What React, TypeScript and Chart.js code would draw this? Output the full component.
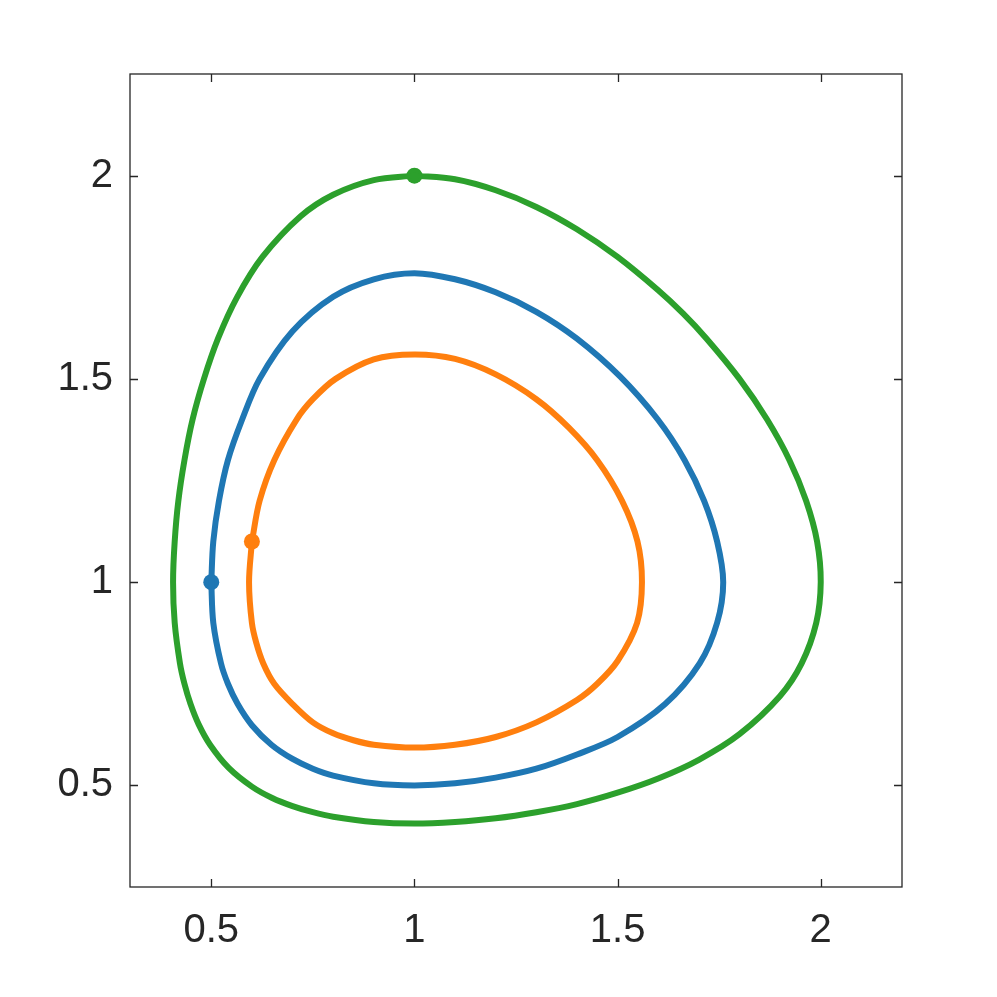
import React, { useEffect, useRef } from "react";
import { Chart, registerables } from "chart.js";

Chart.register(...registerables);

// Closed orbits (x, y), each starting at its marker
const greenX = [1, 1.1, 1.2, 1.3, 1.4, 1.5, 1.6, 1.661, 1.718, 1.8, 1.868, 1.923, 1.964, 1.991, 2.0, 1.989, 1.953, 1.9, 1.8, 1.7, 1.6, 1.5, 1.4, 1.3, 1.2, 1.1, 1, 0.9, 0.8, 0.75, 0.7, 0.65, 0.6, 0.543, 0.497, 0.469, 0.449, 0.434, 0.423, 0.41, 0.406, 0.41, 0.419, 0.434, 0.454, 0.482, 0.517, 0.563, 0.626, 0.72, 0.8, 0.9, 1];
const greenY = [2, 1.991, 1.964, 1.923, 1.868, 1.8, 1.718, 1.661, 1.6, 1.5, 1.4, 1.3, 1.2, 1.1, 1.0, 0.9, 0.8, 0.72, 0.626, 0.563, 0.517, 0.482, 0.454, 0.434, 0.419, 0.41, 0.406, 0.41, 0.423, 0.434, 0.449, 0.469, 0.497, 0.543, 0.6, 0.65, 0.7, 0.75, 0.8, 0.9, 1.0, 1.1, 1.2, 1.3, 1.4, 1.5, 1.6, 1.7, 1.8, 1.9, 1.953, 1.989, 2];

const blueX = [0.5, 0.505, 0.519, 0.541, 0.576, 0.619, 0.7, 0.8, 0.9, 1, 1.1, 1.2, 1.3, 1.4, 1.506, 1.599, 1.665, 1.713, 1.745, 1.76, 1.745, 1.702, 1.617, 1.5, 1.4, 1.3, 1.2, 1.1, 1, 0.9, 0.8, 0.75, 0.7, 0.648, 0.6, 0.565, 0.541, 0.524, 0.505, 0.5];
const blueY = [1, 1.1, 1.2, 1.3, 1.4, 1.5, 1.617, 1.702, 1.745, 1.76, 1.745, 1.713, 1.665, 1.599, 1.506, 1.4, 1.3, 1.2, 1.1, 1.0, 0.9, 0.8, 0.7, 0.619, 0.576, 0.541, 0.519, 0.505, 0.5, 0.505, 0.524, 0.541, 0.565, 0.6, 0.648, 0.7, 0.75, 0.8, 0.9, 1];

const orangeX = [0.6, 0.619, 0.655, 0.71, 0.75, 0.806, 0.9, 1, 1.1, 1.2, 1.3, 1.38, 1.45, 1.511, 1.549, 1.56, 1.548, 1.5, 1.45, 1.4, 1.3, 1.2, 1.1, 1, 0.9, 0.85, 0.8, 0.75, 0.7, 0.655, 0.628, 0.611, 0.6, 0.593, 0.6];
const orangeY = [1.1, 1.2, 1.3, 1.4, 1.45, 1.5, 1.548, 1.56, 1.549, 1.511, 1.45, 1.38, 1.3, 1.2, 1.1, 1.0, 0.9, 0.806, 0.75, 0.71, 0.655, 0.619, 0.6, 0.593, 0.6, 0.611, 0.628, 0.655, 0.7, 0.75, 0.8, 0.85, 0.9, 1.0, 1.1];

const startX = [0.5, 0.6, 1];
const startY = [1, 1.1, 2];

const xTicks = [0.5, 1, 1.5, 2];
const yTicks = [0.5, 1, 1.5, 2];

const BLUE = "#1f77b4";
const ORANGE = "#ff7f0e";
const GREEN = "#2ca02c";
const AXIS = "#262626";

const zip = (xs: number[], ys: number[]) => xs.map((x, i) => ({ x, y: ys[i] }));

const boxPlugin = {
  id: "boxTicks",
  afterDraw(chart: any) {
    const { ctx, chartArea: a, scales } = chart;
    ctx.save();
    ctx.strokeStyle = AXIS;
    ctx.lineWidth = 1.3;
    ctx.beginPath();
    const L = 8;
    xTicks.forEach((v) => {
      const p = Math.round(scales.x.getPixelForValue(v)) + 0.5;
      ctx.moveTo(p, a.bottom);
      ctx.lineTo(p, a.bottom - L);
      ctx.moveTo(p, a.top);
      ctx.lineTo(p, a.top + L);
    });
    yTicks.forEach((v) => {
      const p = Math.round(scales.y.getPixelForValue(v)) + 0.5;
      ctx.moveTo(a.left, p);
      ctx.lineTo(a.left + L, p);
      ctx.moveTo(a.right, p);
      ctx.lineTo(a.right - L, p);
    });
    ctx.stroke();
    ctx.strokeRect(a.left, a.top, a.right - a.left, a.bottom - a.top);
    ctx.restore();
  },
};

export default function App() {
  const ref = useRef<HTMLCanvasElement | null>(null);
  useEffect(() => {
    if (!ref.current) return;
    const lineDs = (data: any[], color: string) => ({
      type: "line" as const,
      data,
      borderColor: color,
      backgroundColor: color,
      borderWidth: 6,
      pointRadius: 0,
      tension: 0.33,
      showLine: true,
      fill: false,
      borderJoinStyle: "round" as const,
      borderCapStyle: "round" as const,
    });
    const chart = new Chart(ref.current, {
      type: "scatter",
      data: {
        datasets: [
          lineDs(zip(blueX, blueY), BLUE),
          lineDs(zip(orangeX, orangeY), ORANGE),
          lineDs(zip(greenX, greenY), GREEN),
          {
            type: "scatter" as const,
            data: zip(startX, startY),
            pointRadius: 8,
            pointBorderWidth: 0,
            backgroundColor: [BLUE, ORANGE, GREEN],
            borderColor: [BLUE, ORANGE, GREEN],
          } as any,
        ],
      },
      options: {
        responsive: false,
        animation: false,
        layout: { padding: { left: 0, top: 74, right: 95, bottom: 0 } },
        plugins: { legend: { display: false }, tooltip: { enabled: false } },
        scales: {
          x: {
            type: "linear",
            min: 0.3,
            max: 2.2,
            afterFit: (s: any) => { s.height = 110; },
            afterBuildTicks: (s: any) => { s.ticks = xTicks.map((v) => ({ value: v })); },
            grid: { display: false, drawTicks: false },
            border: { display: false },
            ticks: {
              padding: 20,
              color: AXIS,
              font: { family: "Liberation Sans, Arial, sans-serif", size: 40 },
              callback: (v: any) => String(v),
            },
          },
          y: {
            type: "linear",
            min: 0.25,
            max: 2.25,
            afterFit: (s: any) => { s.width = 130; },
            afterBuildTicks: (s: any) => { s.ticks = yTicks.map((v) => ({ value: v })); },
            grid: { display: false, drawTicks: false },
            border: { display: false },
            ticks: {
              padding: 17,
              color: AXIS,
              font: { family: "Liberation Sans, Arial, sans-serif", size: 40 },
              callback: (v: any) => String(v),
            },
          },
        },
      },
      plugins: [boxPlugin],
    });
    return () => chart.destroy();
  }, []);
  return (
    <div style={{ position: "fixed", left: 0, top: 0, width: 997, height: 997, background: "#fff" }}>
      <canvas ref={ref} width={997} height={997} style={{ width: 997, height: 997 }} />
    </div>
  );
}
